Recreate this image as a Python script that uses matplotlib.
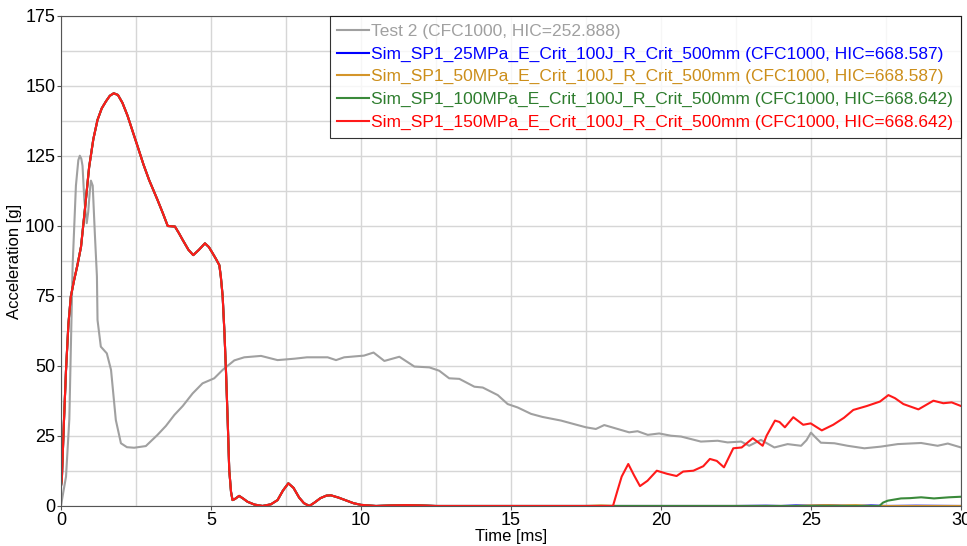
import matplotlib.pyplot as plt
import numpy as np

plt.rcParams['font.family'] = ['Liberation Sans', 'DejaVu Sans']

# Test 2 (measured)
test_t = [0.0, 0.17, 0.28, 0.39, 0.5, 0.58, 0.63, 0.68, 0.72, 0.78, 0.86, 0.91, 0.96, 1.0, 1.06,
          1.13, 1.2, 1.22, 1.33, 1.53, 1.67, 1.83, 2.0, 2.2, 2.44, 2.83, 3.22, 3.5, 3.78, 4.06,
          4.39, 4.72, 5.11, 5.39, 5.78, 6.11, 6.67, 7.22, 7.78, 8.2, 8.56, 8.89, 9.17, 9.44,
          10.1, 10.42, 10.78, 11.28, 11.78, 12.28, 12.61, 12.94, 13.28, 13.78, 14.06, 14.56,
          14.89, 15.22, 15.67, 16.05, 16.67, 17.22, 17.5, 17.83, 18.11, 18.94, 19.22, 19.56,
          19.94, 20.33, 20.67, 21.33, 21.89, 22.22, 22.67, 22.94, 23.33, 23.78, 24.22, 24.67,
          24.85, 25.0, 25.15, 25.33, 25.78, 26.22, 26.78, 27.33, 27.89, 28.67, 29.22, 29.56,
          30.0]
test_a = [0.0, 10.5, 31.0, 85.8, 114.4, 123.5, 125.1, 124.0, 121.5, 109.3, 101.0, 105.0, 112.0,
          116.2, 114.4, 97.4, 82.0, 66.4, 56.9, 54.5, 48.6, 30.7, 22.4, 21.0, 20.8, 21.4, 25.4,
          28.6, 32.5, 35.7, 40.2, 43.8, 45.6, 48.6, 52.0, 53.1, 53.6, 52.1, 52.6, 53.1, 53.1,
          53.1, 52.1, 53.1, 53.7, 54.8, 51.8, 53.3, 49.8, 49.5, 48.3, 45.6, 45.4, 42.6, 42.3,
          39.6, 36.4, 35.2, 32.9, 31.8, 30.5, 28.9, 28.1, 27.5, 28.9, 26.3, 26.7, 25.4, 25.9,
          25.1, 24.8, 23.0, 23.3, 22.7, 23.0, 21.5, 23.6, 20.9, 22.1, 21.5, 23.5, 26.2, 24.5,
          22.6, 22.4, 21.5, 20.6, 21.2, 22.1, 22.5, 21.5, 22.3, 20.9]

# common part of all simulations (identical up to ~12.5 ms)
sim_t = [0.0, 0.03, 0.1, 0.17, 0.25, 0.33, 0.44, 0.55, 0.67, 0.8, 0.94, 1.08, 1.22, 1.36, 1.5,
         1.63, 1.76, 1.9, 2.05, 2.22, 2.4, 2.56, 2.75, 2.94, 3.22, 3.4, 3.56, 3.8, 3.93, 4.06,
         4.25, 4.41, 4.6, 4.8, 4.93, 5.06, 5.18, 5.28, 5.33, 5.39, 5.45, 5.5, 5.56, 5.61, 5.67,
         5.72, 5.8, 5.94, 6.08, 6.22, 6.45, 6.72, 7.0, 7.22, 7.4, 7.58, 7.75, 7.94, 8.1, 8.28,
         8.45, 8.65, 8.85, 9.0, 9.25, 9.5, 9.75, 10.0, 10.5, 11.0, 11.5, 12.0, 12.5]
sim_a = [7.0, 9.3, 30.0, 48.6, 65.0, 74.8, 80.7, 86.0, 92.6, 106.0, 121.0, 131.0, 137.9, 142.0,
         144.5, 146.5, 147.4, 146.8, 144.0, 139.4, 133.5, 128.3, 122.0, 116.4, 109.3, 104.5,
         100.0, 99.8, 97.5, 95.0, 91.5, 89.6, 91.5, 93.8, 92.5, 90.2, 88.0, 86.0, 81.9, 75.0,
         62.0, 48.6, 30.0, 12.9, 5.0, 2.1, 2.5, 3.6, 2.6, 1.5, 0.5, 0.0, 0.6, 2.1, 5.5, 8.1, 6.5,
         3.0, 1.0, 0.0, 1.2, 2.8, 3.7, 3.8, 3.0, 2.0, 1.0, 0.4, 0.0, 0.2, 0.3, 0.2, 0.0]

# late parts of each simulation
blue_t = [13.0, 20.0, 22.5, 23.5, 24.0, 24.5, 25.0, 25.5, 26.0, 26.5, 27.0, 27.5, 28.5, 30.0]
blue_a = [0.0, 0.0, 0.0, 0.1, 0.0, 0.2, 0.1, 0.3, 0.1, 0.0, 0.2, 0.0, 0.1, 0.0]
orange_t = [13.0, 17.5, 18.0, 18.5, 24.5, 25.0, 25.5, 26.0, 26.5, 27.0, 30.0]
orange_a = [0.0, 0.0, 0.2, 0.0, 0.0, 0.2, 0.3, 0.2, 0.3, 0.0, 0.0]
green_t = [13.0, 27.28, 27.4, 27.56, 28.0, 28.3, 28.67, 29.1, 29.6, 30.0]
green_a = [0.0, 0.0, 1.2, 1.9, 2.7, 2.8, 3.1, 2.7, 3.1, 3.3]
red_t = [13.0, 18.4, 18.55, 18.69, 18.91, 19.1, 19.3, 19.55, 19.86, 20.2, 20.52, 20.74, 21.08,
         21.41, 21.63, 21.86, 22.1, 22.41, 22.69, 23.06, 23.39, 23.52, 23.8, 23.95, 24.13,
         24.41, 24.74, 24.99, 25.36, 25.74, 26.1, 26.41, 26.86, 27.3, 27.58, 27.8, 28.08, 28.58,
         29.08, 29.41, 29.69, 30.0]
red_a = [0.0, 0.0, 5.5, 10.5, 15.0, 11.0, 7.1, 9.0, 12.6, 11.5, 10.7, 12.3, 12.6, 14.2, 16.8,
         16.1, 13.8, 20.6, 20.9, 24.2, 21.5, 25.1, 30.5, 30.0, 28.1, 31.7, 29.0, 29.5, 27.0, 29.0,
         31.5, 34.3, 35.7, 37.3, 39.6, 38.5, 36.4, 34.5, 37.6, 36.7, 37.0, 35.7]

labels = ["Test 2 (CFC1000, HIC=252.888)",
          "Sim_SP1_25MPa_E_Crit_100J_R_Crit_500mm (CFC1000, HIC=668.587)",
          "Sim_SP1_50MPa_E_Crit_100J_R_Crit_500mm (CFC1000, HIC=668.587)",
          "Sim_SP1_100MPa_E_Crit_100J_R_Crit_500mm (CFC1000, HIC=668.642)",
          "Sim_SP1_150MPa_E_Crit_100J_R_Crit_500mm (CFC1000, HIC=668.642)"]
colors = ['#a0a0a0', '#0000ff', '#d4952a', '#3a8a3a', '#ff1a1a']
text_colors = ['#a0a0a0', '#0000ff', '#cc8e1a', '#2e7d2e', '#ff0000']

fig = plt.figure(figsize=(9.67, 5.46), dpi=100)
ax = fig.add_axes([0.063, 0.0733, 0.9308, 0.8974])

ax.plot(test_t, test_a, color=colors[0], lw=1.5, label=labels[0])
lates = [(blue_t, blue_a), (orange_t, orange_a), (green_t, green_a), (red_t, red_a)]
for i, (lt, la) in enumerate(lates):
    ax.plot(sim_t + lt, sim_a + la, color=colors[i + 1], lw=1.5, label=labels[i + 1])

ax.set_xlim(0, 30)
ax.set_ylim(0, 175)
ax.set_xticks(np.arange(0, 31, 5))
ax.set_yticks(np.arange(0, 176, 25))
ax.set_xticks(np.arange(0, 31, 2.5), minor=True)
ax.set_yticks(np.arange(0, 176, 12.5), minor=True)
ax.grid(which='both', color='#d6d6d6', lw=1)
ax.set_axisbelow(True)
ax.tick_params(which='major', labelsize=13, length=3, color='#555555', pad=1)
ax.tick_params(which='minor', length=0)
for s in ax.spines.values():
    s.set_color('#555555')

ax.set_xlabel("Time [ms]", fontsize=12, labelpad=0)
ax.set_ylabel("Acceleration [g]", fontsize=12, labelpad=2)

leg = ax.legend(loc='upper right', fontsize=12.5, borderaxespad=0, frameon=True, fancybox=False,
                handlelength=1.8, handletextpad=0.15, labelspacing=0.43, borderpad=0.45)
leg.get_frame().set_edgecolor('black')
leg.get_frame().set_linewidth(0.8)
for txt, c in zip(leg.get_texts(), text_colors):
    txt.set_color(c)

fig.savefig("out.png", dpi=100)
